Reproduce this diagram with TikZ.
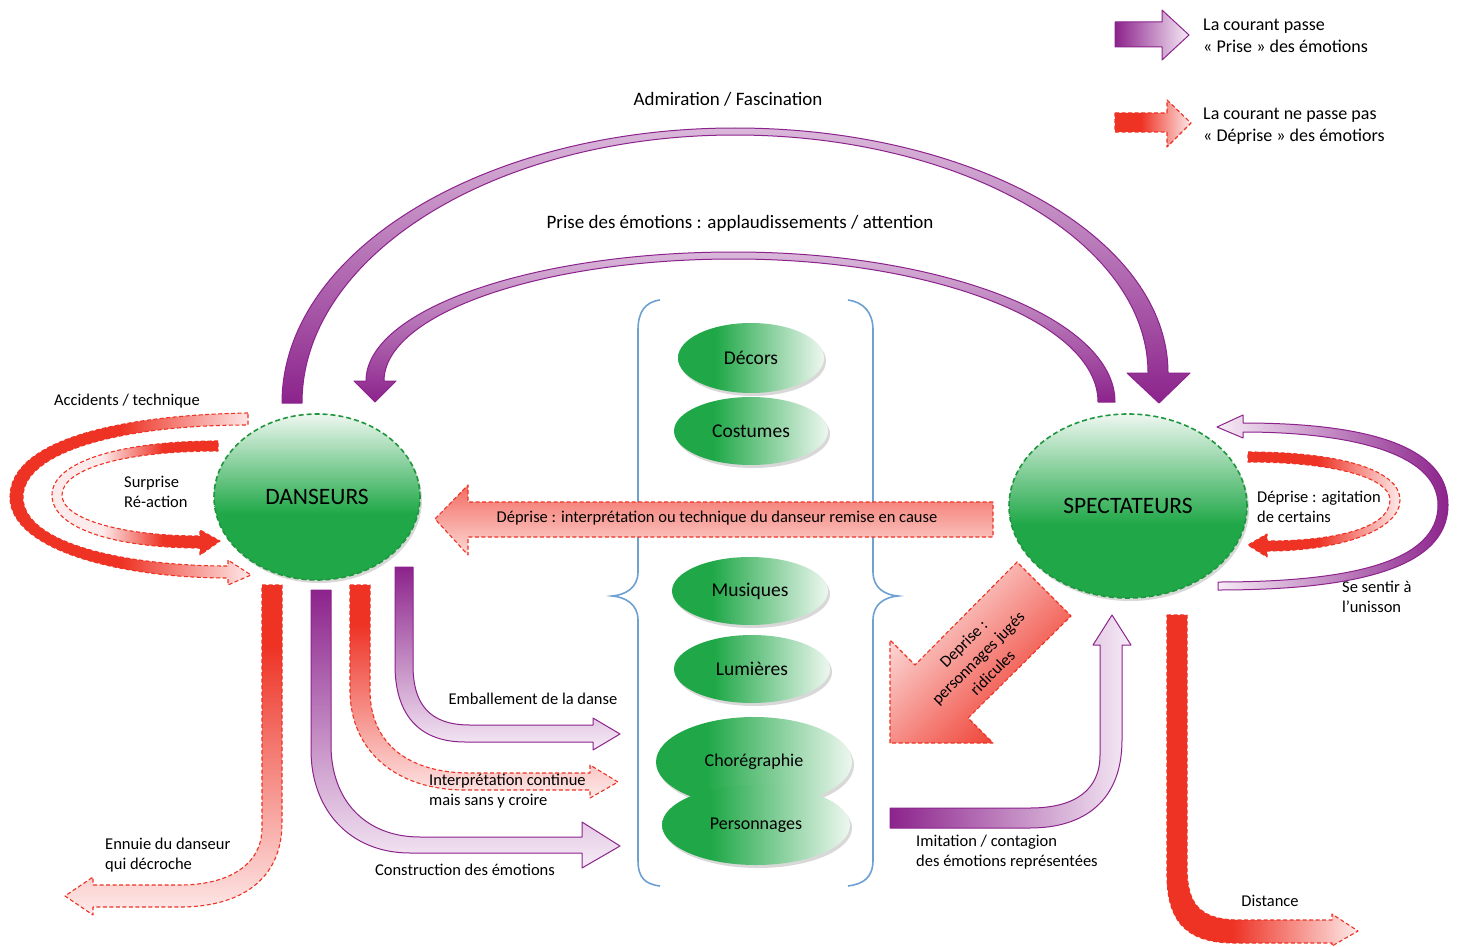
\documentclass[tikz,border=0pt]{standalone}
\usepackage{fontspec}
\setmainfont{Carlito}
\usetikzlibrary{shapes.geometric,shadows}

\definecolor{pdark}{RGB}{140,35,140}
\definecolor{plight}{RGB}{246,236,246}
\definecolor{redS}{RGB}{238,50,36}
\definecolor{redL}{RGB}{253,234,234}
\definecolor{gG}{RGB}{32,168,72}
\definecolor{gL}{RGB}{238,247,240}
\definecolor{gB}{RGB}{30,150,60}
\definecolor{bB}{RGB}{110,160,210}

\pgfdeclareverticalshading{bigell}{100bp}{color(0bp)=(gG); color(25bp)=(gG); color(45bp)=(gG); color(75bp)=(gL); color(100bp)=(gL)}
\pgfdeclarehorizontalshading{smallell}{100bp}{color(0bp)=(gG); color(25bp)=(gG); color(38bp)=(gG); color(75bp)=(gL); color(100bp)=(gL)}
\pgfdeclarehorizontalshading{redLft}{100bp}{color(0bp)=(redS); color(25bp)=(redS); color(48bp)=(redS); color(75bp)=(redL); color(100bp)=(redL)}
\pgfdeclarehorizontalshading{redRgt}{100bp}{color(0bp)=(redL); color(25bp)=(redL); color(40bp)=(redL); color(58bp)=(redS); color(75bp)=(redS); color(100bp)=(redS)}
\pgfdeclareverticalshading{redTop}{100bp}{color(0bp)=(redL); color(25bp)=(redL); color(66bp)=(redS); color(75bp)=(redS); color(100bp)=(redS)}
\pgfdeclarehorizontalshading{redDist}{100bp}{color(0bp)=(redS); color(25bp)=(redS); color(42bp)=(redS); color(75bp)=(redL); color(100bp)=(redL)}

\tikzset{
  redb/.style={draw=redS, line width=1.1pt, dash pattern=on 4pt off 2.5pt, line join=round},
  purb/.style={draw=pdark, line width=1pt, line join=round},
  lbl/.style={font=\fontsize{16.5}{20.5}\selectfont, align=left, inner sep=0pt},
  ttl/.style={font=\fontsize{19}{22}\selectfont, inner sep=0pt},
  leg/.style={font=\fontsize{18}{22}\selectfont, align=left, inner sep=0pt, anchor=west},
  bigellipse/.style={ellipse, draw=gB, line width=1.6pt, dash pattern=on 5pt off 3pt,
     shading=bigell, inner sep=0pt, font=\fontsize{23.5}{27}\selectfont,
     drop shadow={shadow xshift=2pt, shadow yshift=-3pt, opacity=0.25, fill=black!60}},
  smallellipse/.style={ellipse, shading=smallell, inner sep=0pt, font=\fontsize{19.5}{22}\selectfont,
     drop shadow={shadow xshift=2pt, shadow yshift=-3pt, opacity=0.25, fill=black!60}},
  brace/.style={draw=bB, line width=1.6pt}
}

\begin{document}
\begin{tikzpicture}[x=1pt,y=-1pt]
\fill[white] (0,0) rectangle (1458,947);
\useasboundingbox (0,0) rectangle (1458,947);

% ---------- legend ----------
\path[purb, left color=pdark, right color=plight]
  (1115,22) -- (1162,22) -- (1162,10) -- (1189,35) -- (1162,60) -- (1162,47) -- (1115,47) -- cycle;
\node[leg] (leg1) at (1203,36) {La courant passe\\« Prise » des émotions};
\path[redb, shading=redDist]
  (1115,113) -- (1167,113) -- (1167,100) -- (1191,123) -- (1167,147) -- (1167,132) -- (1115,132) -- cycle;
\node[leg] (leg2) at (1203,126) {La courant ne passe pas\\« Déprise » des émotiors};

% ---------- titles ----------
\node[ttl] (adm) at (728,99) {Admiration / Fascination};
\node[ttl] (prise) at (740,223) {Prise des émotions : applaudissements / attention};

% ---------- big arcs ----------
\path[purb, top color=pdark!32!white, bottom color=pdark]
  (282,403) .. controls (282,251) and (485,128) .. (735,128)
  .. controls (974,128) and (1168,238) .. (1168,373)
  -- (1190,373) -- (1159,403) -- (1127,373) -- (1148,373)
  .. controls (1148,242) and (963,135) .. (735,135)
  .. controls (496,135) and (302,255) .. (302,403) -- cycle;
\path[purb, top color=pdark!32!white, bottom color=pdark]
  (1115,402) .. controls (1115,319) and (944,252) .. (734,252)
  .. controls (531,252) and (366,310) .. (366,381)
  -- (354,381) -- (375,402) -- (396,381) -- (384,381)
  .. controls (384,314) and (541,259) .. (734,259)
  .. controls (935,259) and (1098,323) .. (1098,402) -- cycle;

% ---------- braces ----------
\draw[brace] (660,300) .. controls (645,302) and (638,312) .. (638,330) -- (638,572)
  .. controls (638,588) and (625,595) .. (612,596) .. controls (625,597) and (638,604) .. (638,620)
  -- (638,860) .. controls (638,878) and (645,884) .. (660,886);
\draw[brace] (848,300) .. controls (863,302) and (873,312) .. (873,330) -- (873,572)
  .. controls (873,588) and (885,595) .. (898,596) .. controls (885,597) and (873,604) .. (873,620)
  -- (873,860) .. controls (873,878) and (863,884) .. (848,886);

% ---------- central ellipses ----------
\node[smallellipse, minimum width=146pt, minimum height=70pt] (decors) at (751,358) {Décors};
\node[smallellipse, minimum width=154pt, minimum height=68pt] (costumes) at (751,431) {Costumes};
\node[smallellipse, minimum width=156pt, minimum height=68pt] (musiques) at (750,591) {Musiques};
\node[smallellipse, minimum width=156pt, minimum height=68pt] (lumieres) at (752,669) {Lumières};
\node[smallellipse, minimum width=196pt, minimum height=90pt, font=\fontsize{18}{21}\selectfont] (chore) at (754,762) {Chorégraphie};
\node[smallellipse, minimum width=188pt, minimum height=80pt, font=\fontsize{18}{21}\selectfont] (perso) at (756,825) {Personnages};

% ---------- main ellipses ----------
\node[bigellipse, minimum width=206pt, minimum height=166pt] (dans) at (317,497) {DANSEURS};
\node[bigellipse, minimum width=238pt, minimum height=184pt] (spec) at (1128,506) {SPECTATEURS};

% ---------- horizontal Déprise arrow ----------
\path[redb, top color=redS!72!white, bottom color=redS!18!white]
  (993,502) -- (468,502) -- (468,485) -- (435,519) -- (468,555) -- (468,537) -- (993,537) -- cycle;
\node[lbl] (dep) at (717,518) {Déprise : interprétation ou technique du danseur remise en cause};

% ---------- left loops ----------
\path[redb, shading=redLft]
  (248,413) .. controls (120,415) and (10,440) .. (10,497)
  .. controls (10,550) and (120,578) .. (228,578)
  -- (228,585) -- (251,575) -- (228,560) -- (228,566)
  .. controls (130,566) and (23,545) .. (23,497)
  .. controls (23,452) and (120,425) .. (248,425) -- cycle;
\path[redb, shading=redRgt]
  (218,441) .. controls (120,441) and (52,462) .. (52,495)
  .. controls (52,530) and (120,548) .. (200,548)
  -- (200,555) -- (220,541) -- (200,530) -- (200,536)
  .. controls (125,536) and (62,520) .. (62,495)
  .. controls (62,470) and (120,451) .. (218,451) -- cycle;
\node[lbl] (acc) at (127,401) {Accidents / technique};
\node[lbl, anchor=west] (surp) at (124,492) {Surprise\\Ré-action};

% ---------- right loops ----------
\path[purb, left color=plight, right color=pdark]
  (1218,590) .. controls (1350,590) and (1448,570) .. (1448,505)
  .. controls (1448,440) and (1350,423) .. (1243,423)
  -- (1243,415) -- (1217,427) -- (1243,438) -- (1243,432)
  .. controls (1340,432) and (1438,450) .. (1438,505)
  .. controls (1438,562) and (1350,582) .. (1218,582) -- cycle;
\path[redb, shading=redLft]
  (1248,452) .. controls (1340,452) and (1400,470) .. (1400,500)
  .. controls (1400,530) and (1340,551) .. (1267,551)
  -- (1267,557) -- (1248,545) -- (1267,534) -- (1267,541)
  .. controls (1335,541) and (1390,528) .. (1390,500)
  .. controls (1390,478) and (1335,462) .. (1248,462) -- cycle;
\node[lbl, anchor=west] (agit) at (1257,507) {Déprise : agitation\\de certains};
\node[lbl, anchor=west] (unis) at (1342,597) {Se sentir à\\l’unisson};

% ---------- arrows below DANSEURS ----------
\path[redb, shading=redTop]
  (262,585) -- (282,585) -- (282,823) .. controls (282,880) and (240,907) .. (180,907)
  -- (93,907) -- (93,915) -- (65,896) -- (93,877) -- (93,885) -- (180,885)
  .. controls (228,885) and (262,865) .. (262,828) -- cycle;
\node[lbl, anchor=west] (ennui) at (105,855) {Ennuie du danseur\\qui décroche};

\path[purb, top color=pdark, bottom color=plight]
  (311,590) -- (331,590) -- (331,745) .. controls (331,800) and (365,837) .. (420,837)
  -- (582,837) -- (582,822) -- (620,846) -- (582,868) -- (582,853) -- (410,853)
  .. controls (350,853) and (311,810) .. (311,750) -- cycle;
\node[lbl] (constr) at (465,870) {Construction des émotions};

\path[redb, shading=redTop]
  (350,585) -- (370,585) -- (370,690) .. controls (370,745) and (410,773) .. (470,773)
  -- (590,773) -- (590,765) -- (618,782) -- (590,798) -- (590,790) -- (465,790)
  .. controls (395,790) and (350,750) .. (350,690) -- cycle;
\node[lbl, anchor=west] (interp) at (429,791) {Interprétation continue\\mais sans y croire};

\path[purb, top color=pdark, bottom color=plight]
  (395,567) -- (413,567) -- (413,665) .. controls (413,705) and (430,725) .. (470,725)
  -- (593,725) -- (593,718) -- (620,734) -- (593,750) -- (593,742) -- (465,742)
  .. controls (415,742) and (395,710) .. (395,665) -- cycle;
\node[lbl] (emb) at (533,699) {Emballement de la danse};

% ---------- diagonal Deprise arrow ----------
\path[redb, top color=redL, bottom color=redS, shading angle=45]
  (890,743) -- (890,640) -- (915,665) -- (1017,562) -- (1071,616) -- (968,718) -- (993,743) -- cycle;
\node[lbl, align=center, rotate=45] (depdiag) at (978,658) {Deprise :\\personnages jugés\\ridicules};

% ---------- Imitation arrow ----------
\path[purb, left color=pdark, right color=plight]
  (890,808) -- (1030,808) .. controls (1075,808) and (1100,790) .. (1100,755)
  -- (1100,645) -- (1093,645) -- (1112,615) -- (1131,645) -- (1122,645) -- (1122,740)
  .. controls (1122,800) and (1085,828) .. (1030,828) -- (890,828) -- cycle;
\node[lbl, anchor=west] (imit) at (916,852) {Imitation / contagion\\des émotions représentées};

% ---------- Distance arrow ----------
\path[redb, shading=redDist]
  (1167,615) -- (1187,615) -- (1187,867) .. controls (1187,905) and (1200,920) .. (1240,920)
  -- (1332,920) -- (1332,914) -- (1358,931) -- (1332,946) -- (1332,943) -- (1235,943)
  .. controls (1190,943) and (1167,925) .. (1167,875) -- cycle;
\node[lbl] (dist) at (1270,901) {Distance};

\end{tikzpicture}
\end{document}
